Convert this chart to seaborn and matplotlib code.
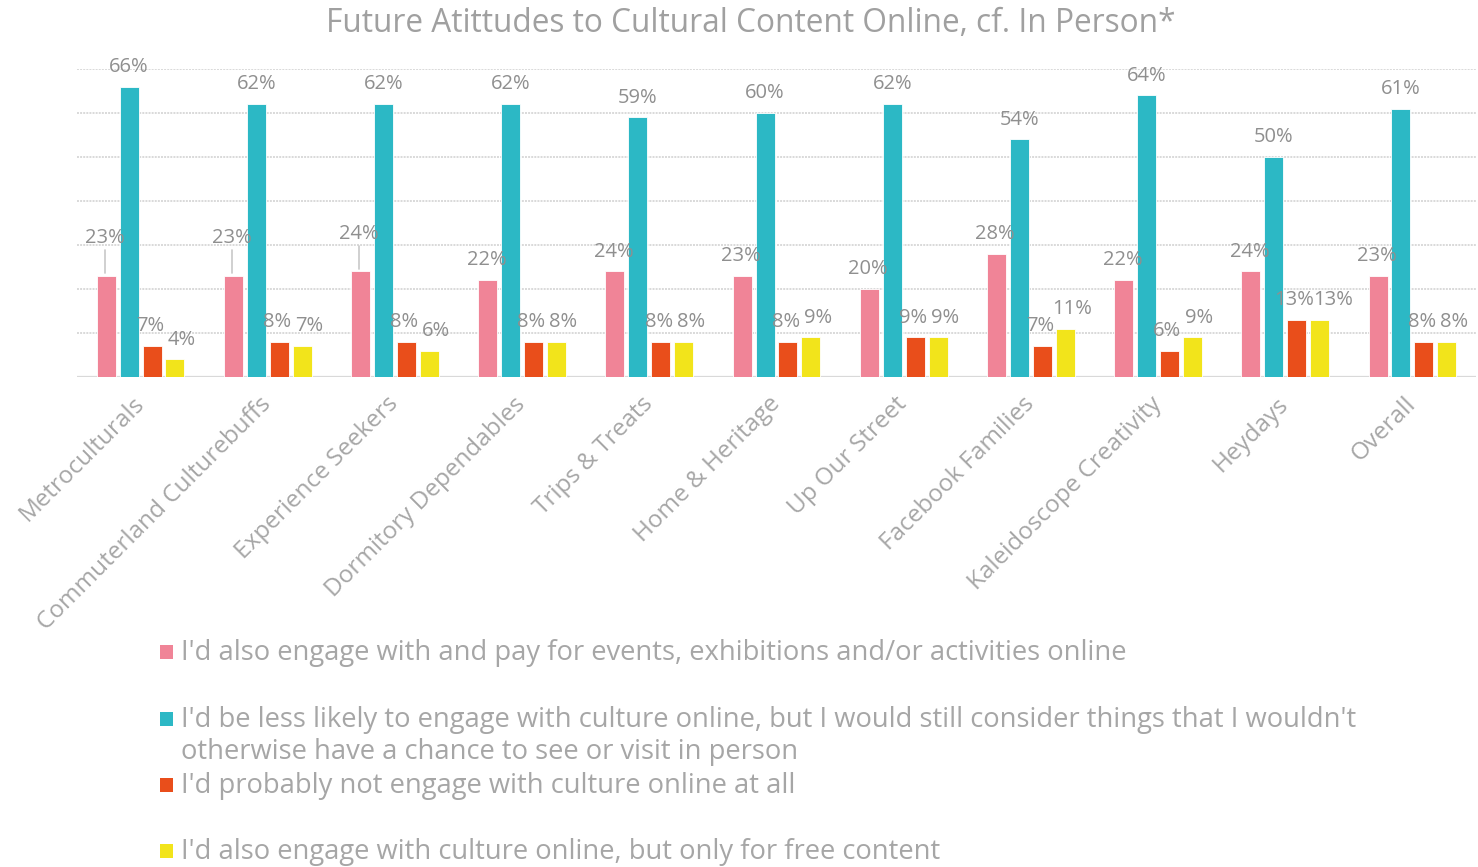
import matplotlib
matplotlib.use("Agg")
import matplotlib.pyplot as plt
from matplotlib.patches import Rectangle
import seaborn as sns
import pandas as pd

segments = [
    "Metroculturals", "Commuterland Culturebuffs", "Experience Seekers",
    "Dormitory Dependables", "Trips & Treats", "Home & Heritage",
    "Up Our Street", "Facebook Families", "Kaleidoscope Creativity",
    "Heydays", "Overall",
]
attitudes = [
    "I'd also engage with and pay for events, exhibitions and/or activities online",
    "I'd be less likely to engage with culture online, but I would still consider things that I wouldn't otherwise have a chance to see or visit in person",
    "I'd probably not engage with culture online at all",
    "I'd also engage with culture online, but only for free content",
]
pay_online = [23, 23, 24, 22, 24, 23, 20, 28, 22, 24, 23]
less_likely = [66, 62, 62, 62, 59, 60, 62, 54, 64, 50, 61]
not_at_all = [7, 8, 8, 8, 8, 8, 9, 7, 6, 13, 8]
free_only = [4, 7, 6, 8, 8, 9, 9, 11, 9, 13, 8]

colors = ["#F08497", "#2CB8C5", "#E94E1B", "#F2E41B"]
title = "Future Atittudes to Cultural Content Online, cf. In Person*"

series = [pay_online, less_likely, not_at_all, free_only]
df = pd.DataFrame({
    "segment": [s for vals in series for s in segments],
    "attitude": [a for a, vals in zip(attitudes, series) for _ in vals],
    "value": [v for vals in series for v in vals],
})

sns.set_theme(style="white")
plt.rcParams["font.family"] = ["Open Sans", "DejaVu Sans"]

W, H = 1478, 867
fig = plt.figure(figsize=(W / 100, H / 100), dpi=100)
ax = fig.add_axes([77 / W, 1 - 377 / H, (1476 - 77) / W, (377 - 69) / H])

sns.barplot(data=df, x="segment", y="value", hue="attitude", order=segments,
            hue_order=attitudes, palette=colors, saturation=1, width=0.72,
            gap=0.17, edgecolor="white", linewidth=0.6, legend=False, ax=ax,
            zorder=3)

ax.set_ylim(0, 70)
ax.set_xlim(-0.5, len(segments) - 0.5)
ax.set_yticks(range(0, 71, 10))
ax.set_yticklabels([])
ax.tick_params(axis="y", length=0)
ax.yaxis.grid(True, color="#d9d9d9", linestyle=(0, (1, 0.6)), linewidth=1.4, zorder=0)
ax.xaxis.grid(False)
for side in ["top", "right", "left", "bottom"]:
    ax.spines[side].set_visible(False)
ax.axhline(0, color="#d9d9d9", linewidth=1.6, zorder=1)
ax.set_xlabel("")
ax.set_ylabel("")

ax.tick_params(axis="x", length=0, pad=17)
ax.set_xticks(range(len(segments)))
ax.set_xticklabels(segments, rotation=45, ha="right", rotation_mode="anchor",
                   fontsize=17.5, color="#a6a6a6")
for lbl in ax.get_xticklabels():
    lbl.set_verticalalignment("center")

label_color = "#8f8f8f"
# horizontal nudges (points) per series so neighbouring labels stay legible
nudge = [-1, 0, -1.5, 5]
special_nudge = {(2, 9): -2, (3, 9): 10}
# first three pink labels sit higher with a leader line down to the bar
raised = {(0, 0), (0, 1), (0, 2)}
for si, container in enumerate(ax.containers):
    for ci, bar in enumerate(container):
        x = bar.get_x() + bar.get_width() / 2
        top = bar.get_height()
        extra = 13 if (si, ci) in raised else 0
        dx = special_nudge.get((si, ci), nudge[si])
        ax.annotate(f"{series[si][ci]:.0f}%", xy=(x, top),
                    xytext=(dx, 7 + extra), textcoords="offset points",
                    ha="center", va="bottom", fontsize=14.5, color=label_color,
                    zorder=5)
        if extra:
            ax.plot([x - 0.01, x - 0.01], [top + 0.6, top + 5.8],
                    color="#c8c8c8", linewidth=1.2, zorder=4)

fig.text(751 / W, 1 - 23 / H, title, ha="center", va="center",
         fontsize=22.8, color="#a0a0a0")

# legend entries drawn in figure pixel space
legend_rows = [(652, [attitudes[0]]),
               (719, ["I'd be less likely to engage with culture online, but I would still consider things that I wouldn't",
                      "otherwise have a chance to see or visit in person"]),
               (785, [attitudes[2]]),
               (851, [attitudes[3]])]
for (y, lines), col in zip(legend_rows, colors):
    fig.patches.append(Rectangle((160 / W, 1 - (y + 7) / H), 13 / W, 14 / H,
                                 transform=fig.transFigure, facecolor=col,
                                 edgecolor="none"))
    for k, line in enumerate(lines):
        fig.text(181 / W, 1 - (y + 1 + 32 * k) / H, line, ha="left", va="center",
                 fontsize=19.7, color="#a6a6a6")

fig.savefig("out.png", dpi=100, facecolor="white")
